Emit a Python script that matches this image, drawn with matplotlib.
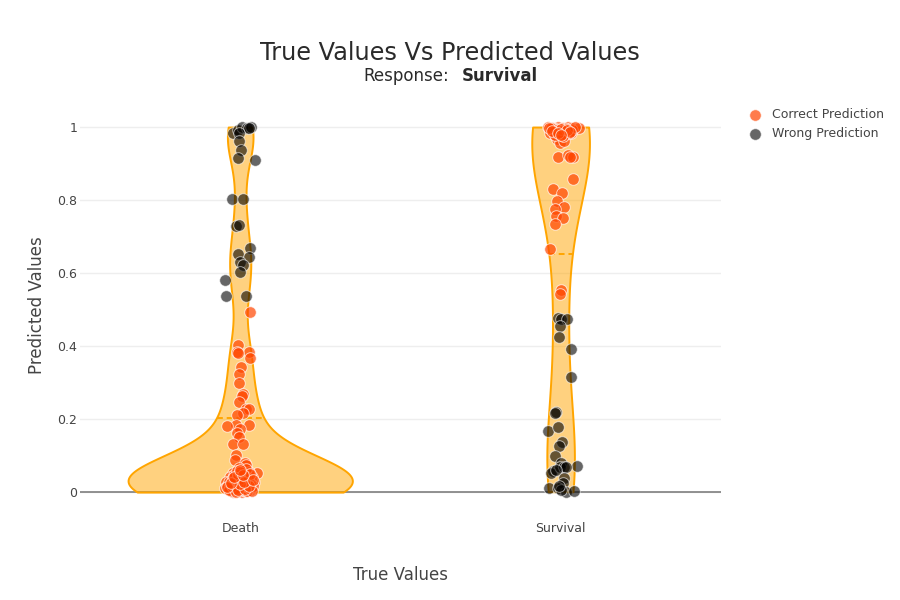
import matplotlib
matplotlib.use("Agg")
import matplotlib.pyplot as plt
import numpy as np

plt.rcParams['font.family'] = ['DejaVu Sans']

# 类别
categories = ["Death", "Survival"]

# Death 组：预测正确（低概率）
death_correct = [0.494, 0.403, 0.384, 0.383, 0.366, 0.380, 0.342, 0.323, 0.298, 0.268,
                 0.263, 0.246, 0.227, 0.227, 0.216, 0.211, 0.184, 0.181, 0.184, 0.172,
                 0.162, 0.152, 0.133, 0.132, 0.103, 0.088, 0.080, 0.074, 0.065, 0.051,
                 0.056, 0.051, 0.042, 0.042, 0.042, 0.028, 0.026, 0.026, 0.024, 0.012,
                 0.010, 0.010, 0.010, 0.001, 0.000, 0.005, 0.038, 0.012, 0.014, 0.027,
                 0.020, 0.008, 0.030, 0.004, 0.018, 0.002]
death_correct_jitter = [0.031, -0.008, -0.010, 0.026, 0.031, -0.008, 0.003, -0.004, -0.005, 0.010,
                        0.007, -0.004, 0.017, 0.026, 0.010, -0.010, -0.012, -0.040, 0.026, 0.000,
                        -0.010, -0.003, -0.024, 0.008, -0.012, -0.016, 0.016, 0.019, -0.005, 0.052,
                        0.026, -0.021, -0.031, 0.000, 0.037, -0.044, -0.021, 0.010, 0.040, -0.047,
                        -0.026, -0.005, 0.021, -0.021, 0.005, 0.031, -0.012, 0.012, -0.034, 0.044,
                        0.002, -0.015, 0.028, 0.014, -0.030, 0.022]

# Death 组：底部重叠在一起的点（估计）
death_correct_dense = [0.003, 0.006, 0.009, 0.011, 0.013, 0.015, 0.017, 0.019, 0.021, 0.022,
                       0.024, 0.025, 0.027, 0.029, 0.031, 0.033, 0.035, 0.036, 0.038, 0.040,
                       0.044, 0.047, 0.049, 0.053, 0.058, 0.062, 0.004, 0.007, 0.010, 0.012,
                       0.016, 0.018, 0.020, 0.023, 0.026, 0.028, 0.030, 0.032, 0.034, 0.037,
                       0.039, 0.043, 0.046, 0.050, 0.055, 0.001, 0.002, 0.005, 0.008, 0.014,
                       0.017, 0.021, 0.025, 0.029, 0.033, 0.041, 0.048, 0.060]
death_correct_dense_jitter = [-0.030, 0.012, -0.018, 0.035, -0.006, 0.024, -0.040, 0.004, 0.030, -0.022,
                              0.016, -0.010, 0.038, -0.028, 0.008, 0.022, -0.016, 0.002, 0.034, -0.004,
                              0.012, -0.020, 0.026, 0.006, -0.010, 0.018, 0.020, -0.036, 0.028, -0.012,
                              0.040, -0.026, 0.010, -0.002, 0.032, -0.034, 0.018, -0.014, 0.004, 0.024,
                              -0.024, 0.014, -0.008, 0.030, 0.000, -0.014, 0.036, -0.006, 0.016, -0.042,
                              0.026, 0.000, -0.030, 0.012, 0.040, -0.018, 0.008, -0.002]

# Death 组：预测错误（高概率）
death_wrong = [0.983, 0.992, 1.000, 0.996, 1.000, 0.996, 0.984, 0.962, 0.937, 0.916,
               0.910, 0.802, 0.802, 0.729, 0.732, 0.669, 0.652, 0.644, 0.631, 0.622,
               0.602, 0.582, 0.536, 0.538]
death_wrong_jitter = [-0.021, -0.008, 0.005, 0.021, 0.033, 0.026, -0.005, -0.003, 0.002, -0.007,
                      0.047, -0.027, 0.008, -0.012, -0.003, 0.029, -0.007, 0.028, 0.000, 0.008,
                      -0.002, -0.046, -0.043, 0.017]

# Survival 组：预测正确（高概率）
surv_correct = [0.999, 0.996, 1.000, 0.996, 1.000, 0.996, 0.996, 0.983, 0.978, 0.985,
                0.983, 0.978, 0.966, 0.955, 0.962, 0.917, 0.923, 0.919, 0.917, 0.858,
                0.830, 0.820, 0.798, 0.782, 0.775, 0.756, 0.750, 0.734, 0.666, 0.553,
                0.542, 0.990, 0.994, 0.988, 0.997]
surv_correct_jitter = [-0.040, -0.024, -0.008, 0.007, 0.023, 0.033, 0.057, -0.034, -0.019, 0.002,
                       0.033, 0.012, -0.012, -0.003, 0.012, -0.008, 0.023, 0.038, 0.030, 0.038,
                       -0.024, 0.004, -0.012, 0.012, -0.016, -0.013, 0.007, -0.016, -0.032, 0.002,
                       -0.003, 0.015, -0.014, 0.026, -0.028]

# Survival 组：顶部重叠在一起的点（估计）
surv_correct_dense = [0.998, 0.995, 0.993, 0.991, 0.989, 0.987, 0.985, 0.982, 0.980, 0.977,
                      0.975, 0.999, 0.996, 0.994, 0.992, 0.990, 0.986, 0.984, 0.979]
surv_correct_dense_jitter = [-0.030, 0.018, -0.010, 0.036, 0.004, -0.022, 0.026, -0.004, 0.012, -0.016,
                             0.008, 0.044, -0.036, 0.000, 0.020, -0.026, 0.030, -0.008, 0.002]

# Survival 组：预测错误（低概率）
surv_wrong = [0.476, 0.474, 0.474, 0.455, 0.425, 0.391, 0.314, 0.220, 0.216, 0.168,
              0.179, 0.138, 0.126, 0.099, 0.079, 0.072, 0.058, 0.053, 0.069, 0.068,
              0.069, 0.060, 0.038, 0.026, 0.012, 0.010, 0.001, 0.003, 0.005, 0.016]
surv_wrong_jitter = [-0.008, 0.002, 0.021, -0.001, -0.005, 0.031, 0.031, -0.013, -0.017, -0.040,
                     -0.008, 0.004, -0.006, -0.016, 0.002, 0.051, -0.024, -0.029, -0.001, 0.012,
                     0.018, -0.013, 0.012, 0.007, -0.037, -0.008, 0.018, 0.041, 0.002, -0.005]

y_ticks = [0, 0.2, 0.4, 0.6, 0.8, 1]
y_tick_labels = ["0", "0.2", "0.4", "0.6", "0.8", "1"]


# 仿照 plotly 的带宽规则
def plotly_bw(kde):
    d = kde.dataset[0]
    std = np.std(d, ddof=1)
    q75, q25 = np.percentile(d, [75, 25])
    bw = 1.059 * min(std, (q75 - q25) / 1.349) * len(d) ** (-0.2)
    return bw / std


d_correct = death_correct + death_correct_dense
d_correct_jit = death_correct_jitter + death_correct_dense_jitter
s_correct = surv_correct + surv_correct_dense
s_correct_jit = surv_correct_jitter + surv_correct_dense_jitter

fig = plt.figure(figsize=(9, 6), dpi=100)
ax = fig.add_axes([0.0889, 0.15, 0.712, 0.6833])

groups = [d_correct + death_wrong, s_correct + surv_wrong]
parts = ax.violinplot(groups, positions=[0, 1], widths=[0.70, 0.18],
                      showextrema=False, bw_method=plotly_bw, points=400)
for body in parts['bodies']:
    body.set_alpha(None)
    body.set_facecolor((1.0, 0.647, 0.0, 0.5))
    body.set_edgecolor('#FFA500')
    body.set_linewidth(1.4)
    body.set_zorder(2)

# 均值虚线（宽度取小提琴在该处的宽度）
for pos, body, g in zip([0, 1], parts['bodies'], groups):
    mean = np.mean(g)
    v = body.get_paths()[0].vertices
    right = v[v[:, 0] > pos + 1e-9]
    order = np.argsort(right[:, 1])
    half = np.interp(mean, right[order, 1], right[order, 0]) - pos
    ax.plot([pos - half, pos + half], [mean, mean], color='#FFA500', lw=1.4,
            ls=(0, (3, 2)), zorder=3)

pt_kw = dict(s=70, edgecolors='white', linewidths=0.7, zorder=4)
ax.scatter(0 + np.array(d_correct_jit), d_correct, color='orangered', alpha=0.7, **pt_kw)
ax.scatter(1 + np.array(s_correct_jit), s_correct, color='orangered', alpha=0.7, **pt_kw)
ax.scatter(0 + np.array(death_wrong_jitter), death_wrong, color='black', alpha=0.6, **pt_kw)
ax.scatter(1 + np.array(surv_wrong_jitter), surv_wrong, color='black', alpha=0.6, **pt_kw)

ax.set_xlim(-0.5, 1.5)
ax.set_ylim(-0.049, 1.074)
ax.set_xticks([0, 1])
ax.set_xticklabels(categories, fontsize=9, color='#444444')
ax.set_yticks(y_ticks)
ax.set_yticklabels(y_tick_labels, fontsize=9, color='#444444')
ax.tick_params(length=0)
ax.tick_params(axis='x', pad=9)
ax.tick_params(axis='y', pad=2)
for s in ax.spines.values():
    s.set_visible(False)
ax.grid(axis='y', color='#eeeeee', lw=1, zorder=0)
ax.set_axisbelow(True)
ax.axhline(0, color='#7f7f7f', lw=1.2, zorder=1)

ax.set_ylabel('Predicted Values', fontsize=12, color='#444444', labelpad=8)
ax.set_xlabel('True Values', fontsize=12, color='#444444', labelpad=22)

fig.text(0.5, 0.912, 'True Values Vs Predicted Values', fontsize=17.3, color='#2a2a2a',
         ha='center', va='center')
fig.text(0.499, 0.874, 'Response:', fontsize=12, color='#2a2a2a', ha='right', va='center')
fig.text(0.513, 0.874, 'Survival', fontsize=12, color='#2a2a2a', ha='left', va='center',
         fontweight='bold')

h1 = ax.scatter([], [], color='orangered', alpha=0.7, s=70, edgecolors='white', linewidths=0.7)
h2 = ax.scatter([], [], color='black', alpha=0.6, s=70, edgecolors='white', linewidths=0.7)
leg = ax.legend([h1, h2], ['Correct Prediction', 'Wrong Prediction'],
                loc='upper left', bbox_to_anchor=(0.826, 0.828), bbox_transform=fig.transFigure,
                frameon=False, fontsize=9, handletextpad=0.9, labelspacing=0.45,
                borderaxespad=0, handlelength=1.0)
for t in leg.get_texts():
    t.set_color('#444444')

fig.savefig('out.png', dpi=100)
